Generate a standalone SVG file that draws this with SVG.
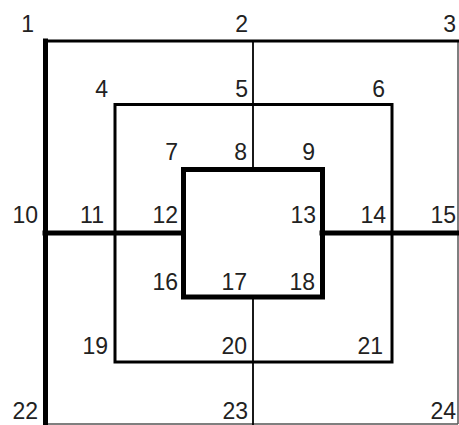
<svg xmlns="http://www.w3.org/2000/svg" width="459" height="425" viewBox="0 0 459 425">
<style>
.t{font-family:"Liberation Sans",Arial,sans-serif;font-size:23px;fill:#222;text-anchor:end}
.k{stroke:#000;fill:none;stroke-linecap:square}
.thin{stroke:#555;stroke-width:1.5;fill:none}
</style>
<rect width="459" height="425" fill="#fff"/>
<g id="lines">
<line class="thin" x1="458" y1="41" x2="458" y2="424"/>
<line class="thin" x1="45" y1="424" x2="458" y2="424"/>
<line class="k" x1="253" y1="41" x2="253" y2="170" stroke-width="1.8" style="stroke-linecap:butt"/>
<line class="k" x1="253" y1="297" x2="253" y2="425" stroke-width="1.8" style="stroke-linecap:butt"/>
<line class="k" x1="45" y1="41" x2="459" y2="41" stroke-width="3"/>
<line class="k" x1="45.5" y1="41" x2="45.5" y2="425" stroke-width="5"/>
<rect class="k" x="115" y="104.5" width="277" height="257.5" stroke-width="3"/>
<rect class="k" x="183.5" y="169.5" width="139" height="127.5" stroke-width="5"/>
<line class="k" x1="45" y1="233" x2="183" y2="233" stroke-width="5"/>
<line class="k" x1="322" y1="233" x2="459" y2="233" stroke-width="5"/>
</g>
<g id="labels">
<text class="t" x="34" y="32">1</text>
<text class="t" x="248" y="32">2</text>
<text class="t" x="456" y="32">3</text>
<text class="t" x="108" y="97">4</text>
<text class="t" x="248" y="97">5</text>
<text class="t" x="385" y="97">6</text>
<text class="t" x="178" y="160">7</text>
<text class="t" x="247" y="160">8</text>
<text class="t" x="315" y="160">9</text>
<text class="t" x="38" y="223">10</text>
<text class="t" x="104" y="223">11</text>
<text class="t" x="178" y="223">12</text>
<text class="t" x="316" y="223">13</text>
<text class="t" x="386" y="223">14</text>
<text class="t" x="456" y="223">15</text>
<text class="t" x="178" y="290">16</text>
<text class="t" x="247" y="290">17</text>
<text class="t" x="315" y="290">18</text>
<text class="t" x="108" y="354">19</text>
<text class="t" x="247" y="354">20</text>
<text class="t" x="383" y="354">21</text>
<text class="t" x="38" y="419">22</text>
<text class="t" x="248" y="419">23</text>
<text class="t" x="456" y="419">24</text>
</g>
</svg>
